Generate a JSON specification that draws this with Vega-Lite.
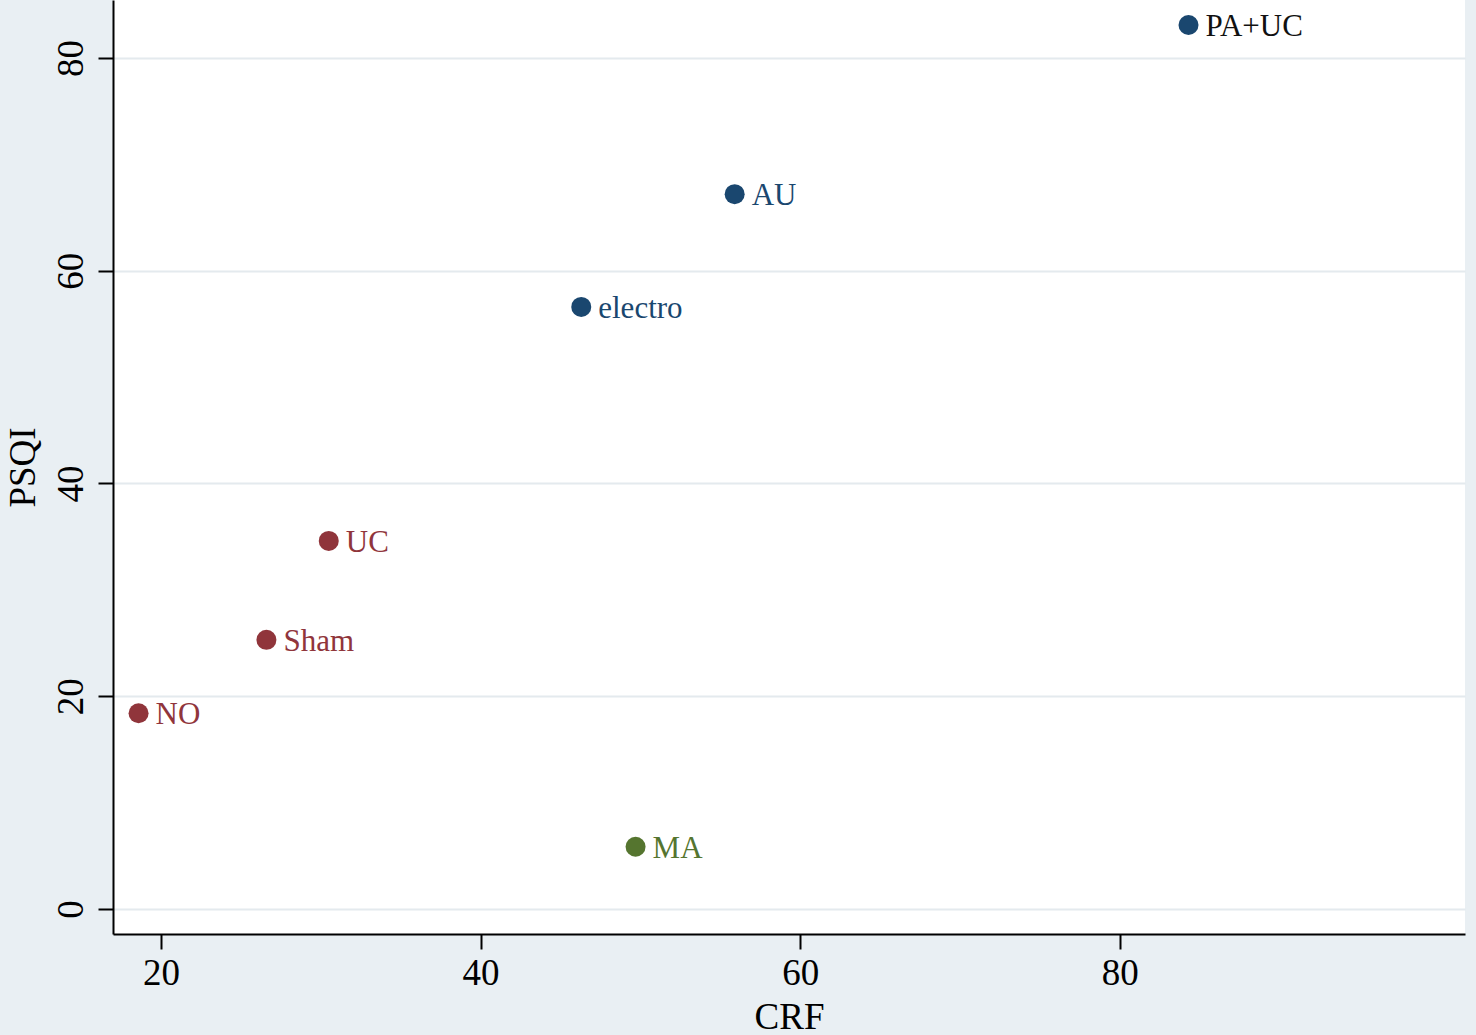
{
  "$schema": "https://vega.github.io/schema/vega-lite/v6.json",
  "autosize": "none",
  "width": 1352,
  "height": 934,
  "padding": {"left": 113, "top": 0, "right": 11, "bottom": 101},
  "background": "#e9eff3",
  "config": {
    "view": {"fill": "white", "stroke": null},
    "font": "Liberation Serif"
  },
  "data": {
    "values": [
      {"treatment": "PA+UC", "CRF": 84.3, "PSQI": 83.1, "group": "a"},
      {"treatment": "AU", "CRF": 55.9, "PSQI": 67.2, "group": "a"},
      {"treatment": "electro", "CRF": 46.3, "PSQI": 56.6, "group": "a"},
      {"treatment": "UC", "CRF": 30.5, "PSQI": 34.6, "group": "b"},
      {"treatment": "Sham", "CRF": 26.6, "PSQI": 25.3, "group": "b"},
      {"treatment": "NO", "CRF": 18.6, "PSQI": 18.4, "group": "b"},
      {"treatment": "MA", "CRF": 49.7, "PSQI": 5.85, "group": "c"}
    ]
  },
  "encoding": {
    "x": {
      "field": "CRF",
      "type": "quantitative",
      "title": "CRF",
      "scale": {"domain": [17.0, 101.6], "nice": false, "zero": false},
      "axis": {
        "values": [20, 40, 60, 80],
        "grid": false,
        "domainColor": "black",
        "domainWidth": 2,
        "tickColor": "black",
        "tickWidth": 2,
        "tickSize": 15,
        "labelFontSize": 37,
        "labelColor": "black",
        "labelPadding": 6,
        "titleFontSize": 37,
        "titleFontWeight": "normal",
        "titleColor": "black",
        "titlePadding": 8
      }
    },
    "y": {
      "field": "PSQI",
      "type": "quantitative",
      "title": "PSQI",
      "scale": {"domain": [-2.35, 85.45], "nice": false, "zero": false},
      "axis": {
        "values": [0, 20, 40, 60, 80],
        "grid": true,
        "gridColor": "#e4eaee",
        "gridWidth": 2,
        "domainColor": "black",
        "domainWidth": 2,
        "tickColor": "black",
        "tickWidth": 2,
        "tickSize": 15,
        "labelAngle": -90,
        "labelAlign": "center",
        "labelBaseline": "bottom",
        "labelFontSize": 37,
        "labelColor": "black",
        "labelPadding": 8,
        "titleFontSize": 37,
        "titleFontWeight": "normal",
        "titleColor": "black",
        "titlePadding": 10
      }
    }
  },
  "layer": [
    {
      "mark": {"type": "circle", "size": 400, "opacity": 1},
      "encoding": {
        "color": {
          "field": "group",
          "type": "nominal",
          "legend": null,
          "scale": {"domain": ["a", "b", "c"], "range": ["#1a476f", "#90353b", "#55752f"]}
        }
      }
    },
    {
      "mark": {"type": "text", "align": "left", "baseline": "middle", "dx": 17, "dy": 2, "fontSize": 31},
      "encoding": {
        "text": {"field": "treatment"},
        "color": {
          "condition": {"test": "datum.treatment === 'PA+UC'", "value": "#111111"},
          "field": "group",
          "type": "nominal",
          "legend": null,
          "scale": {"domain": ["a", "b", "c"], "range": ["#1a476f", "#90353b", "#55752f"]}
        }
      }
    }
  ]
}
